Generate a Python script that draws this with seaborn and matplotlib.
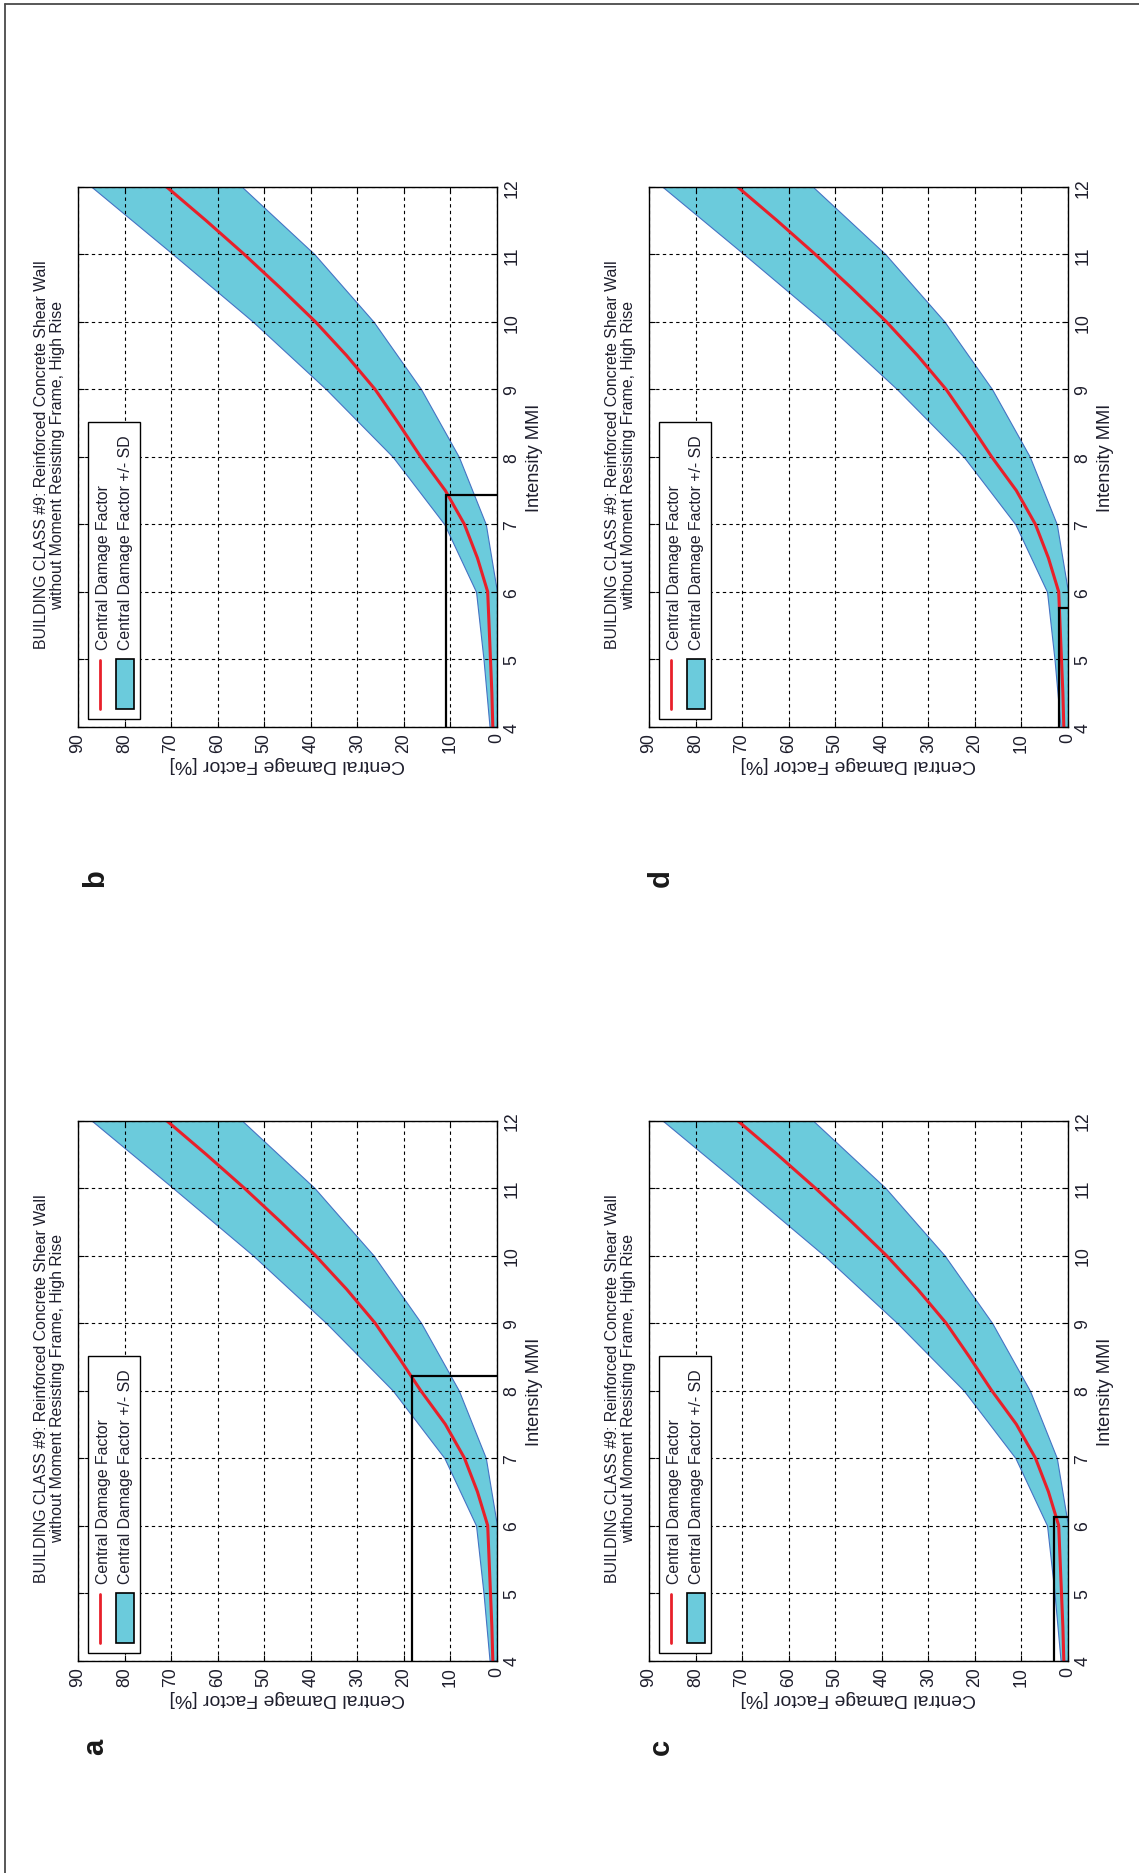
import matplotlib
matplotlib.use("Agg")
import matplotlib.pyplot as plt
import matplotlib.font_manager as fm
from matplotlib.lines import Line2D
from matplotlib.patches import Rectangle
import seaborn as sns

# ---------------- data ----------------
# band (+/- SD), read at integer MMI
mmi_band = [4, 5, 6, 7, 8, 9, 10, 11, 12]
cdf_upper = [1.6, 2.9, 4.5, 11.3, 22.4, 36.7, 52.4, 69.6, 87.1]
cdf_lower = [0.0, 0.0, 0.0, 2.4, 8.2, 16.3, 26.5, 39.2, 54.8]

# central damage factor, read at half-step MMI
mmi_central = [4, 4.5, 5, 5.5, 6, 6.5, 7, 7.5, 8, 8.5, 9, 9.5, 10, 10.5, 11, 11.5, 12]
cdf_central = [0.9, 1.1, 1.4, 1.7, 2.0, 4.2, 7.0, 11.1, 16.4, 21.2, 26.2, 32.3,
               39.0, 46.5, 54.3, 62.5, 71.0]

panel_letters = ["a", "b", "c", "d"]
lookup_mmi = [8.21, 7.43, 6.13, 5.76]
lookup_cdf = [18.2, 10.9, 3.1, 2.0]

damage_ticks = [0, 10, 20, 30, 40, 50, 60, 70, 80, 90]
mmi_ticks = [4, 5, 6, 7, 8, 9, 10, 11, 12]
title_text = ("BUILDING CLASS #9: Reinforced Concrete Shear Wall\n"
              "without Moment Resisting Frame, High Rise")
legend_labels = ["Central Damage Factor", "Central Damage Factor +/- SD"]
x_label = "Central Damage Factor [%]"
y_label = "Intensity MMI"

# ---------------- style ----------------
sns.set_theme(style="white")
names = {f.name for f in fm.fontManager.ttflist}
if "Liberation Sans Narrow" in names:
    main_font = "Liberation Sans Narrow"
    k = 1.0
else:
    main_font = "Liberation Sans"
    k = 0.82
plt.rcParams["font.family"] = [main_font, "DejaVu Sans"]

W, H = 1139, 1874
fig = plt.figure(figsize=(W / 100, H / 100), dpi=100)
fig.patch.set_facecolor("white")

FILL = "#6BCBDC"
EDGE = "#4573C4"
RED = "#E8202A"
TXT = "#1e1e2c"

# axes boxes in pixels: left, top, width, height
boxes = {
    "a": (78, 1121.5, 419, 540),
    "b": (78, 187.8, 419, 540),
    "c": (649, 1121.5, 419, 540),
    "d": (649, 187.8, 419, 540),
}
letter_pos = {"a": (95, 1747), "b": (95, 878), "c": (661, 1747), "d": (661, 878)}

for letter, lm, lc in zip(panel_letters, lookup_mmi, lookup_cdf):
    l, t, w, h = boxes[letter]
    ax = fig.add_axes([l / W, 1 - (t + h) / H, w / W, h / H])
    ax.set_facecolor("white")

    ax.fill_betweenx(mmi_band, cdf_lower, cdf_upper, facecolor=FILL,
                     edgecolor=EDGE, linewidth=0.8, zorder=2)
    sns.lineplot(x=cdf_central, y=mmi_central, orient="y", color=RED,
                 linewidth=2.2, ax=ax, zorder=3)
    ax.plot([lc, lc, 0], [mmi_ticks[0], lm, lm], color="black", linewidth=1.6,
            zorder=4, solid_joinstyle="miter")

    ax.set_xlim(90, 0)
    ax.set_ylim(4, 12)
    ax.set_xticks(damage_ticks, labels=[str(v) for v in damage_ticks],
                  rotation=90, ha="center", va="top", fontsize=15.5 * k, color=TXT)
    ax.set_yticks(mmi_ticks, labels=[str(v) for v in mmi_ticks],
                  rotation=90, ha="left", va="center", fontsize=15.5 * k, color=TXT)
    ax.tick_params(axis="both", direction="in", length=4, width=0.8,
                   color="black", top=True, bottom=True, left=True, right=True,
                   labelleft=False, labelright=True, labelbottom=True)
    ax.tick_params(axis="x", pad=4)
    ax.tick_params(axis="y", pad=4.5)
    ax.grid(True, color="black", linestyle=(0, (3, 3)), linewidth=0.8)
    ax.set_axisbelow(False)
    for s in ax.spines.values():
        s.set_color("black")
        s.set_linewidth(1.0)
        s.set_zorder(6)

    ax.set_xlabel(x_label, rotation=180, fontsize=17 * k, color=TXT, labelpad=2)
    ax.yaxis.set_label_position("right")
    ax.set_ylabel(y_label, rotation=90, fontsize=16 * k, color=TXT, labelpad=4)

    ax.text(-0.067, 0.505, title_text, rotation=90, ha="center", va="center",
            multialignment="center", linespacing=1.1, fontsize=14 * k,
            color=TXT, transform=ax.transAxes)

    # legend (drawn manually so that it is rotated like the rest)
    ax.add_patch(Rectangle((0.0227, 0.0144), 0.1253, 0.55, transform=ax.transAxes,
                           facecolor="white", edgecolor="black", linewidth=1.0,
                           zorder=7))
    ax.add_line(Line2D([0.0532, 0.0532], [0.033, 0.124], transform=ax.transAxes,
                       color=RED, linewidth=2.0, zorder=8))
    ax.add_patch(Rectangle((0.090, 0.033), 0.0429, 0.092, transform=ax.transAxes,
                           facecolor=FILL, edgecolor="black", linewidth=1.2,
                           zorder=8))
    ax.text(0.0597, 0.144, legend_labels[0], rotation=90, ha="center",
            va="bottom", fontsize=14 * k, color=TXT, transform=ax.transAxes,
            zorder=9)
    ax.text(0.1138, 0.144, legend_labels[1], rotation=90, ha="center",
            va="bottom", fontsize=14 * k, color=TXT, transform=ax.transAxes,
            zorder=9)

    lx, ly = letter_pos[letter]
    fig.text(lx / W, 1 - ly / H, letter, rotation=90, ha="center", va="center",
             fontsize=21, fontweight="bold", family=["Liberation Sans", "DejaVu Sans"],
             color="#1a1a1a")

# page frame (top and left edge)
fig.add_artist(Line2D([4.8 / W, 4.8 / W], [0, 1 - 4.8 / H], transform=fig.transFigure,
                      color="#4a4a4a", linewidth=1.3))
fig.add_artist(Line2D([4.8 / W, 1], [1 - 4.8 / H, 1 - 4.8 / H], transform=fig.transFigure,
                      color="#4a4a4a", linewidth=1.3))

fig.savefig("out.png", dpi=100, facecolor="white")
